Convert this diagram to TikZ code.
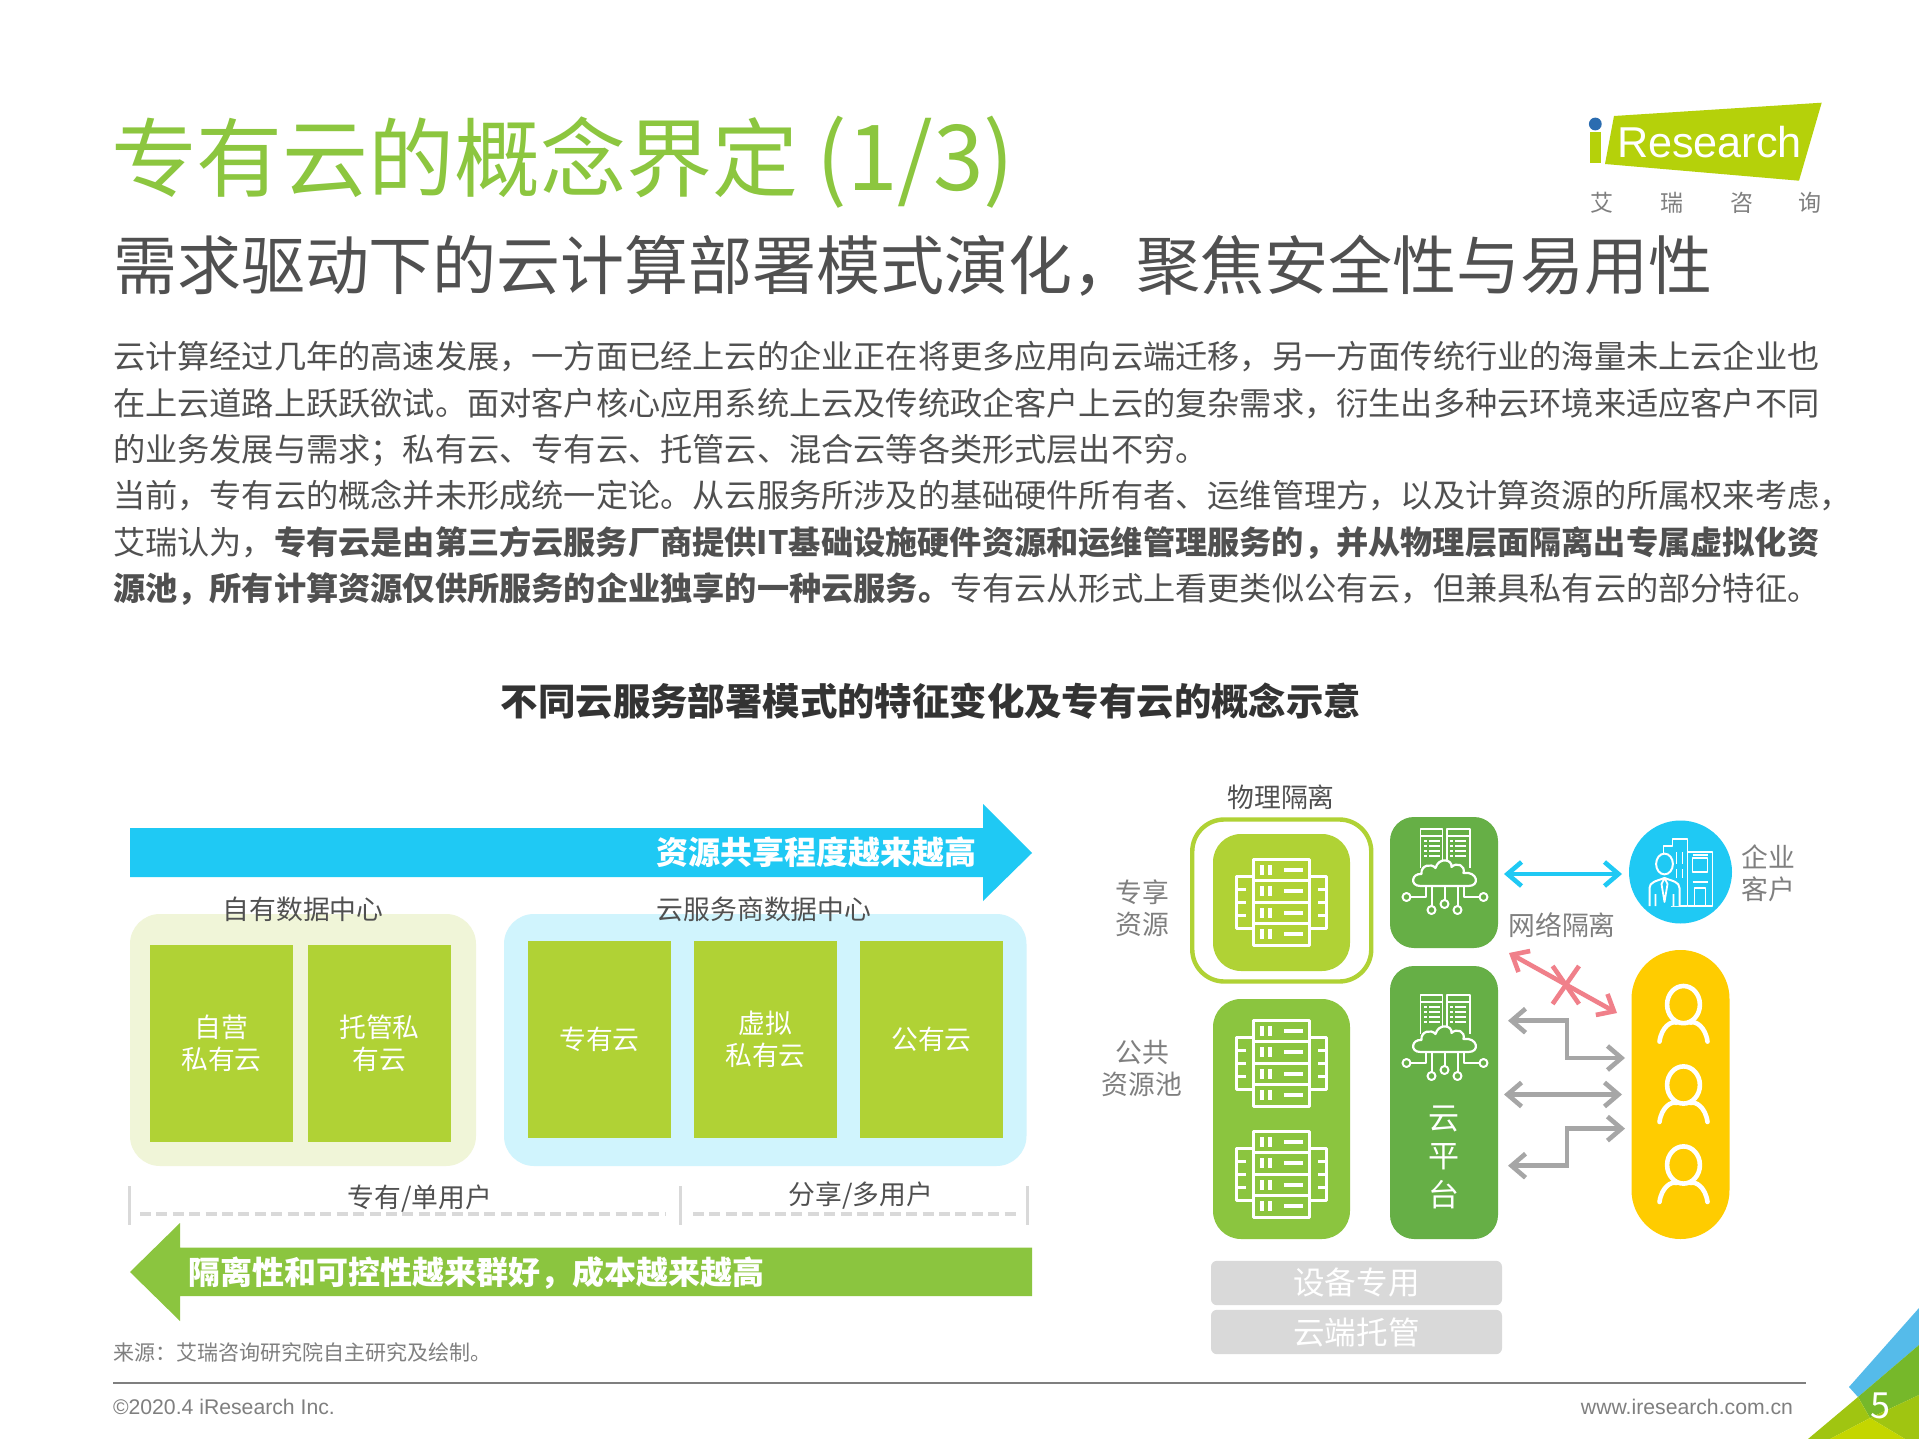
\documentclass[tikz,border=0pt]{standalone}
\usepackage{fontspec}
\setmainfont{Noto Sans CJK SC}
\newfontfamily\arialf{Liberation Sans}
\usetikzlibrary{arrows.meta}
\definecolor{cTitle}{HTML}{8CC63F}
\definecolor{cText}{HTML}{505050}
\definecolor{cGrayT}{HTML}{7F7F7F}
\definecolor{cBlue}{HTML}{1FC9F4}
\definecolor{cLime}{HTML}{B0D235}
\definecolor{cLeaf}{HTML}{8BC53F}
\definecolor{cDark}{HTML}{66AF46}
\definecolor{cPaleG}{HTML}{F0F5D8}
\definecolor{cPaleB}{HTML}{D0F4FD}
\definecolor{cBar}{HTML}{D9D9D9}
\definecolor{cArrow}{HTML}{A6A6A6}
\definecolor{cPink}{HTML}{F0808A}
\definecolor{cYellow}{HTML}{FFCC00}
\definecolor{cLogo}{HTML}{B5D10A}
\newcommand{\fz}[1]{\fontsize{#1pt}{#1pt}\selectfont}
\newcommand{\qc}{\symbol{"FF0C}}
\newcommand{\qs}{\symbol{"FF1B}}
\newcommand{\qk}{\symbol{"FF1A}}
\tikzset{
  x=0.5pt,y=-0.5pt,
  txt/.style={inner sep=0,outer sep=0,anchor=base west,text=cText},
  lbl/.style={inner sep=0,outer sep=0,align=center,text=cText,font=\fontsize{13.4pt}{16pt}\selectfont},
  glbl/.style={lbl,text=cGrayT},
  box/.style={inner sep=0,outer sep=0,fill=cLime,text=white,align=center,minimum width=71.5pt,minimum height=98.5pt,font=\fontsize{13.4pt}{16pt}\selectfont},
  cont/.style={inner sep=0,outer sep=0,rounded corners=15pt,minimum height=126pt},
  panel/.style={inner sep=0,outer sep=0,rounded corners=14pt},
  graybar/.style={inner sep=0,outer sep=0,fill=cBar,rounded corners=3pt,minimum width=145.5pt,minimum height=22.2pt,text=white,font=\fz{15.8}},
  ticks/.style={draw=cBar,line width=1.5pt},
  dashl/.style={draw=cBar,line width=2pt,dash pattern=on 5.5pt off 2.7pt},
  bar2/.style={line width=2.3pt,line join=miter,{Straight Barb[length=7pt,width=12pt]}-{Straight Barb[length=7pt,width=12pt]}},
  ic/.style={draw=white,line width=1.25pt,line join=round},
}
\newcommand{\servericon}[2]{%
\begin{scope}[shift={(#1,#2)}]
  \draw[ic,line width=1.5pt] (-28,-43) rectangle (28,43);
  \draw[ic,line width=1.5pt] (-28,-21.5) -- (28,-21.5) (-28,0) -- (28,0) (-28,21.5) -- (28,21.5);
  \foreach \yy in {-32,-10.7,10.7,32}{
    \fill[white] (-22,\yy-5) rectangle (-18,\yy+5);
    \fill[white] (-14,\yy-5) rectangle (-10,\yy+5);
    \fill[white] (2,\yy-2) rectangle (21,\yy+2);
  }
  \draw[ic,line width=1.5pt] (-28,-26) -- (-45,-26) -- (-45,26) -- (-28,26);
  \draw[ic,line width=1.5pt] (-45,-13) -- (-36,-13) (-45,0) -- (-36,0) (-45,13) -- (-36,13);
  \draw[ic,line width=1.5pt] (28,-26) -- (45,-26) -- (45,26) -- (28,26);
  \draw[ic,line width=1.5pt] (45,-13) -- (36,-13) (45,0) -- (36,0) (45,13) -- (36,13);
\end{scope}}
\newcommand{\cloudicon}[2]{%
\begin{scope}[shift={(#1,#2)}]
  \draw[ic,line width=.9pt] (-24,-3) -- (-24,-42) -- (-2,-42) -- (-2,-5);
  \draw[ic,line width=.9pt] (2.4,-5) -- (2.4,-42) -- (25.7,-42) -- (25.7,-3);
  \draw[ic,line width=.9pt] (-24,-35) -- (-2,-35) (2.4,-35) -- (25.7,-35);
  \foreach \xx in {-21,5.5}{
    \fill[white] (\xx,-31) rectangle ++(3,2.4);
    \fill[white] (\xx,-26) rectangle ++(3,2.4);
    \fill[white] (\xx,-21) rectangle ++(3,2.4);
    \fill[white] (\xx,-16) rectangle ++(3,2.4);
    \fill[white] (\xx+5,-31) rectangle ++(11,2.4);
    \fill[white] (\xx+5,-26) rectangle ++(11,2.4);
    \fill[white] (\xx+5,-21) rectangle ++(11,2.4);
    \fill[white] (\xx+5,-16) rectangle ++(11,2.4);
  }
  \draw[ic,line width=1.1pt,fill=cDark] (-24,15) .. controls (-35,15) and (-33,2) .. (-23,3) .. controls (-24,-6) and (-13,-8) .. (-9,-3) .. controls (-6,-14) and (8,-12) .. (7,-4) .. controls (12,-9) and (21,-6) .. (19,2) .. controls (33,0) and (36,15) .. (24,15) -- cycle;
  \draw[ic,line width=1pt] (-19,15) -- (-19,26) -- (-34,26) (19,15) -- (19,26) -- (35,26);
  \draw[ic,line width=1pt] (-13,15) -- (-13,35) (0,15) -- (0,29) (13,15) -- (13,35);
  \draw[ic,line width=1pt] (-38,26) circle [radius=2pt] (39,26) circle [radius=2pt] (-13,39) circle [radius=2pt] (0,33) circle [radius=2pt] (13,39) circle [radius=2pt];
\end{scope}}
\newcommand{\usericon}[2]{%
\begin{scope}[shift={(#1,#2)}]
  \draw[ic,line width=2.3pt] (0,0) ellipse [x radius=8.2pt,y radius=9.3pt];
  \draw[ic,line width=2.3pt,line cap=round] (-24,37) .. controls (-22,22) and (-12,16) .. (-7,18);
  \draw[ic,line width=2.3pt,line cap=round] (24,37) .. controls (22,22) and (12,16) .. (7,18);
\end{scope}}
\begin{document}
\begin{tikzpicture}
\useasboundingbox (0,0) rectangle (1919,1439);
% corner
\fill[white] (0,0) rectangle (1919,1439);
\fill[fill={rgb,255:red,85;green,187;blue,234}] (1849,1387) -- (1919,1308) -- (1919,1345) -- (1858,1397) -- cycle;
\fill[fill={rgb,255:red,118;green,184;blue,42}] (1858,1397) -- (1919,1345) -- (1919,1395) -- (1870,1418) -- cycle;
\fill[fill={rgb,255:red,160;green,197;blue,17}] (1808,1439) -- (1858,1397) -- (1870,1418) -- (1830,1439) -- cycle;
\fill[fill={rgb,255:red,160;green,197;blue,17}] (1870,1418) -- (1919,1395) -- (1919,1439) -- (1905,1439) -- cycle;
\fill[fill={rgb,255:red,196;green,214;blue,0}] (1830,1439) -- (1870,1418) -- (1905,1439) -- cycle;
\node[txt,text=white,anchor=center,font=\fz{18}] (pg) at (1880,1406) {5};
% header
\node[txt,text=cTitle,font=\fz{43}] (title) at (111,191) {专有云的概念界定\hspace{-1pt} {\fz{45.5}(1/3)}};
\node[txt,font=\fz{32}] (subtitle) at (113,290) {需求驱动下的云计算部署模式演化\qc 聚焦安全性与易用性};
\node[txt,font=\fz{16.1}] (p1) at (113,369) {云计算经过几年的高速发展\qc 一方面已经上云的企业正在将更多应用向云端迁移\qc 另一方面传统行业的海量未上云企业也};
\node[txt,font=\fz{16.1}] (p2) at (113,415.5) {在上云道路上跃跃欲试。面对客户核心应用系统上云及传统政企客户上云的复杂需求\qc 衍生出多种云环境来适应客户不同};
\node[txt,font=\fz{16.1}] (p3) at (113,461) {的业务发展与需求\qs 私有云、专有云、托管云、混合云等各类形式层出不穷。};
\node[txt,font=\fz{16.1}] (p4) at (113,507.5) {当前\qc 专有云的概念并未形成统一定论。从云服务所涉及的基础硬件所有者、运维管理方\qc 以及计算资源的所属权来考虑\qc};
\node[txt,font=\fz{16.1}] (p5) at (113,554) {艾瑞认为\qc\textbf{专有云是由第三方云服务厂商提供IT基础设施硬件资源和运维管理服务的\qc 并从物理层面隔离出专属虚拟化资}};
\node[txt,font=\fz{16.1}] (p6) at (113,600.5) {\textbf{源池\qc 所有计算资源仅供所服务的企业独享的一种云服务。}专有云从形式上看更类似公有云\qc 但兼具私有云的部分特征。};
\node[txt,anchor=center,text=black!80,font=\fz{18.7}\bfseries] (ctitle) at (931,701) {不同云服务部署模式的特征变化及专有云的概念示意};
% logo
\fill[cLogo] (1614,116) -- (1821.7,102.7) -- (1799,180.7) -- (1605,164) -- cycle;
\fill[cLogo] (1590,131.7) rectangle (1600.7,162.7);
\fill[fill={rgb,255:red,43;green,108;blue,176}] (1595.3,124) circle [radius=3.2pt];
\node[txt,text=white,font=\arialf\fz{21.6}] (lg) at (1617,158) {Research};
\node[txt,anchor=center,text=cGrayT,font=\fz{11.5}] (l1) at (1601.7,202.7) {艾};
\node[txt,anchor=center,text=cGrayT,font=\fz{11.5}] (l2) at (1671.7,202.7) {瑞};
\node[txt,anchor=center,text=cGrayT,font=\fz{11.5}] (l3) at (1741.7,202.7) {咨};
\node[txt,anchor=center,text=cGrayT,font=\fz{11.5}] (l4) at (1810,202.7) {询};
% top arrow
\fill[cBlue] (130,828) -- (983,828) -- (983,804) -- (1032,853) -- (983,901) -- (983,877) -- (130,877) -- cycle;
\node[txt,anchor=center,text=white,font=\fz{16}\bfseries] (ta) at (816,852) {资源共享程度越来越高};
% containers
\node[cont,fill=cPaleG,minimum width=173pt] (ca) at (303,1040) {};
\node[cont,fill=cPaleB,minimum width=261.25pt] (cb) at (765.25,1040) {};
\node[lbl] (la) at (303,909) {自有数据中心};
\node[lbl] (lb) at (764,909) {云服务商数据中心};
\node[box] (b1) at (221.5,1043.5) {自营\\私有云};
\node[box] (b2) at (379.5,1043.5) {托管私\\有云};
\node[box] (b3) at (599.5,1039.5) {专有云};
\node[box] (b4) at (765.5,1039.5) {虚拟\\私有云};
\node[box] (b5) at (931.5,1039.5) {公有云};
% brackets
\draw[ticks] (129.5,1186) -- (129.5,1225);
\draw[ticks] (680,1186) -- (680,1225);
\draw[ticks] (1027,1186) -- (1027,1225);
\draw[dashl] (140,1214) -- (665,1214);
\draw[dashl] (693,1214) -- (1017,1214);
\node[lbl] (u1) at (420,1199) {专有/单用户};
\node[lbl] (u2) at (861,1196) {分享/多用户};
% bottom arrow
\fill[cLeaf] (1032,1247.5) -- (180,1247.5) -- (180,1223) -- (130,1272) -- (180,1321) -- (180,1296) -- (1032,1296) -- cycle;
\node[txt,anchor=center,text=white,font=\fz{16}\bfseries] (ba) at (476.5,1273) {隔离性和可控性越来群好\qc 成本越来越高};
\node[txt,anchor=west,text=cGrayT,font=\fz{10.5}] (src) at (113,1353) {来源\qk 艾瑞咨询研究院自主研究及绘制。};
% right diagram
\node[lbl] (phy) at (1281,797.5) {物理隔离};
\node[panel,draw=cLime,line width=2.2pt,rounded corners=16pt,minimum width=89.5pt,minimum height=81pt] (outer) at (1281.75,900.5) {};
\node[panel,fill=cLime,minimum width=68.5pt,minimum height=68.5pt] (inner) at (1281.5,902.5) {};
\servericon{1281.5}{902}
\node[panel,fill=cLeaf,minimum width=68.5pt,minimum height=120pt] (pool) at (1281.5,1119) {};
\servericon{1281.5}{1063}
\servericon{1281.5}{1174}
\node[panel,fill=cDark,minimum width=54pt,minimum height=65.5pt,rounded corners=12pt] (d1) at (1444,882.5) {};
\node[panel,fill=cDark,minimum width=54pt,minimum height=136.5pt,rounded corners=12pt] (d2) at (1444,1102.5) {};
\cloudicon{1444.5}{871}
\cloudicon{1444.5}{1037}
\node[lbl,text=white,font=\fz{15.5}] (y1) at (1443.5,1119) {云};
\node[lbl,text=white,font=\fz{15.5}] (y2) at (1443.5,1157) {平};
\node[lbl,text=white,font=\fz{15.5}] (y3) at (1443.5,1195) {台};
\node[glbl] (zx) at (1142,908) {专享\\资源};
\node[glbl] (gg) at (1142,1068) {公共\\资源池};
\node[glbl] (wl) at (1562,925) {网络隔离};
\node[glbl] (qy) at (1768,873) {企业\\客户};
\node[inner sep=0,outer sep=0,circle,fill=cBlue,minimum size=51.5pt] (ent) at (1680.5,872) {};
% building + person
\begin{scope}[shift={(1680.5,872)}]
  \draw[ic,line width=.9pt] (-17,-8) -- (-17,-26) -- (-8,-26) -- (-8,-33) -- (7,-33) -- (7,34) -- (-10,34);
  \draw[ic,line width=.9pt] (7,-20) -- (32,-20) -- (32,34) -- (7,34);
  \draw[ic,line width=.9pt] (12,-14) rectangle (27,0) (12,10) -- (27,10) (14,34) -- (14,16) -- (25,16) -- (25,34);
  \draw[ic,line width=.9pt] (-4,-20) -- (-4,-8) (2,-20) -- (2,-8) (-4,-3) -- (-4,6) (2,-3) -- (2,6) (12,-17) -- (27,-17);
  \draw[ic,line width=1pt,fill=cBlue] (-16,-8) ellipse [x radius=4.2pt,y radius=5.2pt];
  \draw[ic,line width=1pt,fill=cBlue] (-31,34) -- (-31,16) .. controls (-31,10) and (-24,9) .. (-16,6) .. controls (-8,9) and (-1,10) .. (-1,16) -- (-1,34);
  \draw[ic,line width=.9pt] (-16,6) -- (-19,12) -- (-16,30) -- (-13,12) -- cycle (-25,22) -- (-25,34) (-7,22) -- (-7,34);
\end{scope}
\node[panel,fill=cYellow,minimum width=49pt,minimum height=144.5pt,rounded corners=24.4pt] (pill) at (1680.5,1094.5) {};
\usericon{1683.5}{1004.6}
\usericon{1683.5}{1085}
\usericon{1683.5}{1165}
% connectors
\coordinate (e1a) at (1504,874); \coordinate (e1b) at (1622,874);
\coordinate (e2a) at (1509,953); \coordinate (e2b) at (1617,1013);
\coordinate (e3a) at (1508,1020.7); \coordinate (e3m1) at (1567,1020.7); \coordinate (e3m2) at (1567,1058); \coordinate (e3b) at (1625,1058);
\coordinate (e4a) at (1504,1094.5); \coordinate (e4b) at (1622,1094.5);
\coordinate (e5a) at (1508,1165.7); \coordinate (e5m1) at (1567,1165.7); \coordinate (e5m2) at (1567,1128.6); \coordinate (e5b) at (1625,1128.6);
\coordinate (xa) at (1552.6,966); \coordinate (xb) at (1579,1004); \coordinate (xc) at (1579,966); \coordinate (xd) at (1552.6,1004);
\draw[bar2,draw=cBlue] (e1a) -- (e1b);
\draw[bar2,draw=cPink] (e2a) -- (e2b);
\draw[draw=cPink,line width=2.3pt] (xa) -- (xb);
\draw[draw=cPink,line width=2.3pt] (xc) -- (xd);
\draw[bar2,draw=cArrow] (e3a) -- (e3m1) -- (e3m2) -- (e3b);
\draw[bar2,draw=cArrow] (e4a) -- (e4b);
\draw[bar2,draw=cArrow] (e5a) -- (e5m1) -- (e5m2) -- (e5b);
% gray bars
\node[graybar] (g1) at (1356.5,1283) {设备专用};
\node[graybar] (g2) at (1356.5,1332) {云端托管};
% footer
\draw[draw=cGrayT,line width=.9pt] (113,1383) -- (1806,1383);
\node[txt,anchor=west,text=cGrayT,font=\arialf\fz{10.6}] (f1) at (113,1407) {©2020.4 iResearch Inc.};
\node[txt,anchor=east,text=cGrayT,font=\arialf\fz{10.6}] (f2) at (1793,1407) {www.iresearch.com.cn};
\end{tikzpicture}
\end{document}
